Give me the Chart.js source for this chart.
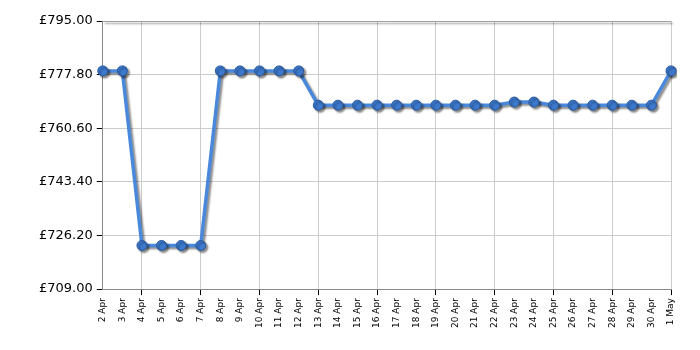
<!DOCTYPE html>
<html>
<head>
<meta charset="utf-8">
<script src="https://cdn.jsdelivr.net/npm/chart.js@4"></script>
<style>
  body { margin: 0; background: #fff; }
  #wrap { width: 700px; height: 350px; }
</style>
</head>
<body>
<div id="wrap"><canvas id="priceChart" width="700" height="350"></canvas></div>
<script>
// price history
const days = ['2 Apr', '3 Apr', '4 Apr', '5 Apr', '6 Apr', '7 Apr', '8 Apr', '9 Apr', '10 Apr', '11 Apr',
    '12 Apr', '13 Apr', '14 Apr', '15 Apr', '16 Apr', '17 Apr', '18 Apr', '19 Apr', '20 Apr', '21 Apr',
    '22 Apr', '23 Apr', '24 Apr', '25 Apr', '26 Apr', '27 Apr', '28 Apr', '29 Apr', '30 Apr', '1 May'];
const prices = [779, 779, 723, 723, 723, 723, 779, 779, 779, 779,
    779, 768, 768, 768, 768, 768, 768, 768, 768, 768,
    768, 769, 769, 768, 768, 768, 768, 768, 768, 779];
const yTicks = [709, 726.2, 743.4, 760.6, 777.8, 795];

// gray drop shadow under the line and dots
const shadowPlugin = {
    id: 'shadow',
    beforeDatasetsDraw(chart) {
        const ctx = chart.ctx;
        ctx.save();
        ctx.shadowColor = 'rgba(0,0,0,0.45)';
        ctx.shadowOffsetX = 2;
        ctx.shadowOffsetY = 2;
        ctx.shadowBlur = 2;
    },
    afterDatasetsDraw(chart) {
        chart.ctx.restore();
    }
};

// top border of the plot
const borderPlugin = {
    id: 'border',
    beforeDatasetsDraw(chart) {
        const { ctx, chartArea } = chart;
        ctx.save();
        ctx.strokeStyle = '#a0a0a0';
        ctx.lineWidth = 1;
        ctx.beginPath();
        ctx.moveTo(chartArea.left, chartArea.top + 0.5);
        ctx.lineTo(chartArea.right, chartArea.top + 0.5);
        ctx.stroke();
        ctx.restore();
    }
};

const gridOn = c => (c.index % 3 === 2 ? '#cccccc' : 'rgba(0,0,0,0)');
const tickOn = c => (c.index % 3 === 2 ? '#000000' : 'rgba(0,0,0,0)');

new Chart(document.getElementById('priceChart'), {
    type: 'line',
    data: {
        labels: days,
        datasets: [{
            data: prices,
            borderColor: '#4a88dc',
            borderWidth: 3.5,
            tension: 0,
            pointRadius: 5,
            pointBackgroundColor: '#3c78cc',
            pointBorderColor: '#2a5a9e',
            pointBorderWidth: 1
        }]
    },
    options: {
        responsive: false,
        animation: false,
        layout: { padding: { top: 21, right: 29, left: 35, bottom: 19 } },
        plugins: {
            legend: { display: false },
            tooltip: { enabled: false }
        },
        scales: {
            x: {
                offset: false,
                grid: { color: gridOn, tickColor: tickOn, tickLength: 6 },
                border: { color: '#888888' },
                ticks: {
                    autoSkip: false,
                    maxRotation: 90,
                    minRotation: 90,
                    color: '#000',
                    font: { family: 'DejaVu Sans', size: 9 }
                }
            },
            y: {
                min: 709,
                max: 795,
                afterBuildTicks: axis => { axis.ticks = yTicks.map(v => ({ value: v })); },
                grid: { color: '#cccccc', tickColor: '#000', tickLength: 6 },
                border: { color: '#888888' },
                ticks: {
                    color: '#000',
                    padding: 4,
                    font: { family: 'DejaVu Sans', size: 13 },
                    callback: v => '£' + Number(v).toFixed(2)
                }
            }
        }
    },
    plugins: [shadowPlugin, borderPlugin]
});
</script>
</body>
</html>
